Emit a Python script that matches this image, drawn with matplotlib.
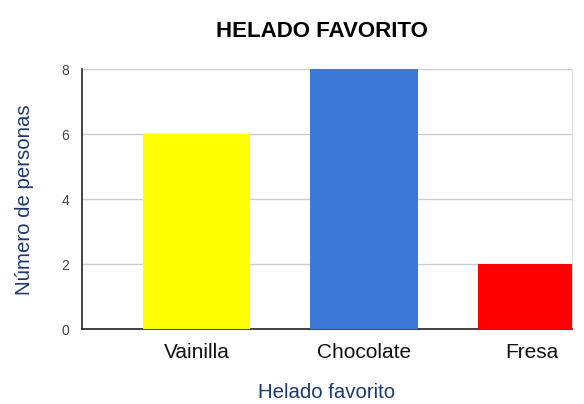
import matplotlib
matplotlib.use('Agg')
import matplotlib.pyplot as plt

# datos
sabores = ['Vainilla', 'Chocolate', 'Fresa']
personas = [6, 8, 2]
colores = ['#ffff00', '#3c78d8', '#ff0000']
yticks = [0, 2, 4, 6, 8]

plt.rcParams['font.family'] = ['Liberation Sans', 'DejaVu Sans']

fig = plt.figure(figsize=(5.84, 4.04), dpi=100)
ax = fig.add_axes([0.1404, 0.1856, 0.8391, 0.6424])

x = range(len(sabores))
ax.bar(x, personas, width=0.64, color=colores, zorder=3)

ax.set_xlim(-0.684, 2.242)
ax.set_ylim(0, 8)
ax.set_yticks(yticks)
ax.set_xticks(list(x))
ax.set_xticklabels(sabores, fontsize=15, color='#111111')
ax.tick_params(axis='x', length=0, pad=10)
ax.tick_params(axis='y', length=0, pad=9, labelsize=10, labelcolor='#444444')

ax.grid(axis='y', color='#cccccc', linewidth=1, zorder=0)
ax.spines['top'].set_visible(False)
ax.spines['right'].set_color('#dddddd')
ax.spines['left'].set_color('#222222')
ax.spines['bottom'].set_color('#222222')
ax.spines['left'].set_linewidth(1.2)
ax.spines['bottom'].set_linewidth(1.2)

ax.set_xlabel('Helado favorito', fontsize=14.7, color='#1c3771', labelpad=15)
ax.set_ylabel('Número de personas', fontsize=14.7, color='#1c3771', labelpad=20)

fig.text(0.552, 0.923, 'HELADO FAVORITO', fontsize=16, fontweight='bold',
         ha='center', va='center', color='black')

plt.savefig('out.png', dpi=100)
plt.close()
